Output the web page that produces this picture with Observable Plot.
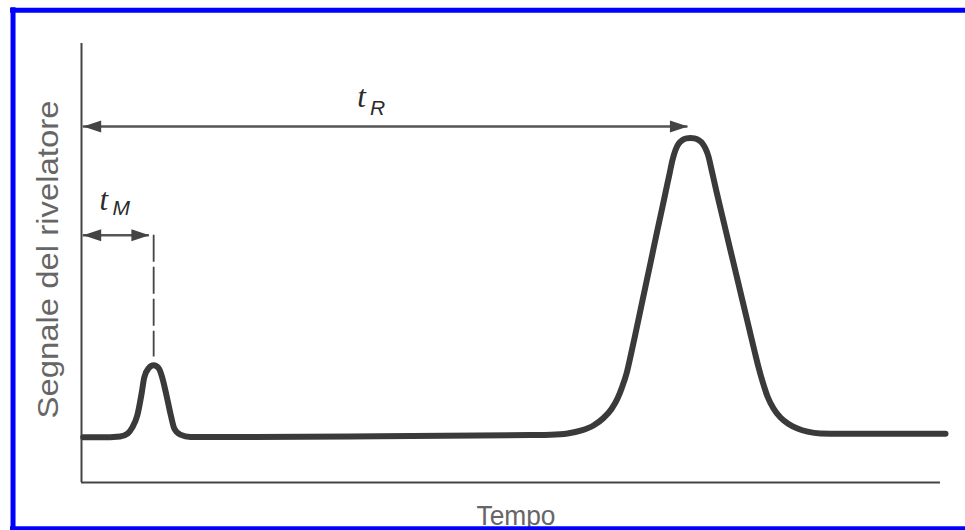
<!DOCTYPE html>
<html><head><meta charset="utf-8">
<script src="https://cdn.jsdelivr.net/npm/d3@7"></script>
<script src="https://cdn.jsdelivr.net/npm/@observablehq/plot@0.6"></script>
<style>html,body{margin:0;padding:0;background:#fff;overflow:hidden}</style>
</head><body><div id="chart"></div>
<script>
// Detector trace (time, signal)
const time = [0.2, 2.2, 4.5, 5.4, 5.9, 6.5, 7.0, 7.3, 7.8, 8.4, 9.0, 9.4, 9.9, 10.4, 10.8, 11.5, 12.69,
  31.3, 52.27, 54.6, 56.58, 58.21, 59.6, 60.77, 61.7, 62.4, 62.98, 63.45, 63.91, 64.38, 65.31, 66.24, 67.05,
  67.99, 68.45, 68.8, 69.15, 69.5, 69.97, 70.43, 70.9, 71.36, 71.83, 72.29, 72.64, 72.99, 73.34, 73.92,
  74.85, 75.9, 76.95, 77.65, 78.35, 78.81, 79.28, 79.86, 80.56, 81.37, 82.31, 83.35, 84.52, 86.03, 88.36, 100.58];
const signal = [10.3, 10.3, 10.5, 11.2, 12.5, 15.3, 20.3, 23.9, 26.0, 26.7, 26.0, 23.9, 19.8, 15.3, 12.3, 10.9, 10.36,
  10.48, 10.8, 10.87, 11.16, 11.85, 12.98, 14.69, 16.74, 19.13, 21.98, 24.83, 28.7, 32.89, 41.46, 50.02, 57.52,
  66.06, 70.27, 73.46, 75.74, 77.11, 78.02, 78.38, 78.47, 78.38, 78.02, 77.22, 76.08, 74.26, 71.3, 66.29,
  58.63, 50.02, 41.41, 35.67, 29.93, 26.29, 23.01, 19.59, 16.86, 14.81, 13.33, 12.3, 11.57, 11.16, 11.09, 11.09];

// Annotations
const arrowStart = [0.2, 0.2];      // t = 0
const arrowEnd = [70.6, 7.9];       // tR, tM
const arrowLevel = [81.1, 56.3];
const dropTime = [8.4];
const dropTop = [56.3];
const dropBottom = [28.6];
const labelMain = ["t", "t"];
const labelSub = ["R", "M"];
const labelTime = [32.1, 2.1];
const labelLevel = [85.6, 62.0];
const subTime = [33.6, 3.6];
const subLevel = [83.6, 61.0];
const xLabel = ["Tempo"];
const yLabel = ["Segnale del rivelatore"];
// picture border (blue), in chart units: left edge, top and bottom edges
const borderLeft = [-7.97];
const borderTopBottom = [107.6, -10.55];
const borderRightEnd = 110;

const trace = time.map((t, i) => ({t, s: signal[i]}));
const arrows = arrowStart.map((a, i) => ({a, b: arrowEnd[i], y: arrowLevel[i]}));
const drops = dropTime.map((t, i) => ({t, y1: dropTop[i], y2: dropBottom[i]}));
const labels = labelMain.map((m, i) => ({m, sub: labelSub[i], t: labelTime[i], y: labelLevel[i], st: subTime[i], sy: subLevel[i]}));

const head = {draw(ctx) { ctx.moveTo(0, 0); ctx.lineTo(-18, -6); ctx.lineTo(-18, 6); ctx.closePath(); }};

const chart = Plot.plot({
  width: 965, height: 530,
  marginLeft: 81, marginRight: 25, marginTop: 43, marginBottom: 48,
  x: {domain: [0, 100], axis: null},
  y: {domain: [0, 100], axis: null},
  style: {fontFamily: "'Liberation Sans', Arial, sans-serif", background: "#fff"},
  marks: [
    Plot.ruleX([0], {y1: 0, y2: 100, stroke: "#444", strokeWidth: 2}),
    Plot.ruleY([0], {x1: 0, x2: 100, stroke: "#444", strokeWidth: 2}),
    Plot.line(trace, {x: "t", y: "s", curve: "monotone-x", stroke: "#3a3a3a", strokeWidth: 6, strokeLinejoin: "round"}),
    Plot.ruleX(drops, {x: "t", y1: "y1", y2: "y2", stroke: "#444", strokeWidth: 1.8, strokeDasharray: "27,5"}),
    Plot.ruleY(arrows, {y: "y", x1: "a", x2: "b", stroke: "#555", strokeWidth: 2.5}),
    Plot.dot(arrows, {x: "b", y: "y", symbol: head, fill: "#444", stroke: "none"}),
    Plot.dot(arrows, {x: "a", y: "y", symbol: head, rotate: 180, fill: "#444", stroke: "none"}),
    Plot.text(labels, {x: "t", y: "y", text: "m", textAnchor: "start", lineAnchor: "bottom", fontSize: 31, fontStyle: "italic", fontFamily: "'Liberation Serif', serif", fill: "#2a2a2a"}),
    Plot.text(labels, {x: "st", y: "sy", text: "sub", textAnchor: "start", lineAnchor: "bottom", fontSize: 21, fontStyle: "italic", fontFamily: "'Liberation Sans', sans-serif", fill: "#2a2a2a"}),
    Plot.text(yLabel, {text: d => d, frameAnchor: "left", textAnchor: "start", dx: -33, dy: 155.5, rotate: -90, fontSize: 30, fill: "#666"}),
    Plot.text(xLabel, {text: d => d, frameAnchor: "bottom", lineAnchor: "bottom", textAnchor: "start", dx: -34.5, dy: 42, fontSize: 28, fill: "#666"}),
    Plot.ruleY(borderTopBottom, {x1: borderLeft[0], x2: borderRightEnd, stroke: "#0000ff", strokeWidth: 5, strokeLinecap: "square"}),
    Plot.ruleX(borderLeft, {y1: borderTopBottom[1], y2: borderTopBottom[0], stroke: "#0000ff", strokeWidth: 5, strokeLinecap: "square"})
  ]
});
document.getElementById("chart").append(chart);
// fit label lengths to the reference
d3.select(chart).selectAll("text").each(function() {
  const s = this.textContent;
  if (s === yLabel[0]) { this.setAttribute("textLength", 318); this.setAttribute("lengthAdjust", "spacingAndGlyphs"); }
  if (s === xLabel[0]) { this.setAttribute("textLength", 79); this.setAttribute("lengthAdjust", "spacingAndGlyphs"); }
});
</script>
</body></html>
